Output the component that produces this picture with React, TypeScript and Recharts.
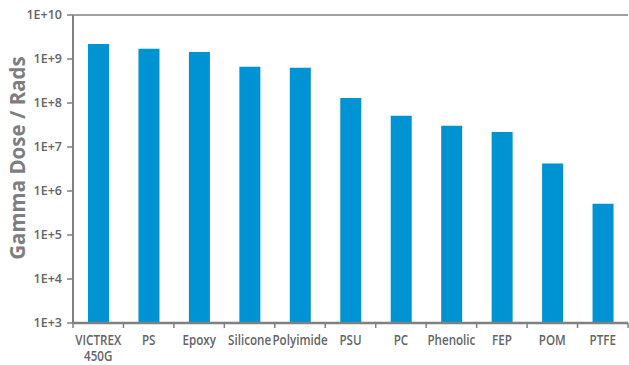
import React from 'react';
import {
  BarChart,
  Bar,
  XAxis,
  YAxis,
  ReferenceLine,
} from 'recharts';

const materials = [
  'VICTREX 450G',
  'PS',
  'Epoxy',
  'Silicone',
  'Polyimide',
  'PSU',
  'PC',
  'Phenolic',
  'FEP',
  'POM',
  'PTFE',
];

const gammaDose = [2.2e9, 1.7e9, 1.45e9, 6.7e8, 6.3e8, 1.3e8, 5.1e7, 3.05e7, 2.2e7, 4.2e6, 5.1e5];

const yTicks = [1e3, 1e4, 1e5, 1e6, 1e7, 1e8, 1e9, 1e10];

const data = materials.map((name, i) => ({ name, dose: gammaDose[i] }));

const textColor = '#636466';
const axisColor = '#808080';
const barColor = '#0093d3';
const font = "'Open Sans', sans-serif";

const formatTick = (v: number) => `1E+${Math.round(Math.log10(v))}`;

// category ticks sit on band edges, labels split on spaces
function MaterialTick(props: any) {
  const { x, y, payload, index } = props;
  const half = payload?.offset || 25.3;
  const lines = String(payload.value).split(' ');
  const last = index === materials.length - 1;
  return (
    <g>
      <line x1={x - half} y1={y} x2={x - half} y2={y + 5} stroke={axisColor} strokeWidth={1.5} />
      {last && (
        <line x1={x + half} y1={y} x2={x + half} y2={y + 5} stroke={axisColor} strokeWidth={1.5} />
      )}
      <text
        transform={`translate(${x},${y + 22}) scale(0.83,1)`}
        textAnchor="middle"
        fill={textColor}
        fontSize={14}
        fontWeight={600}
        fontFamily={font}
      >
        {lines.map((l, i) => (
          <tspan key={l} x={0} dy={i === 0 ? 0 : 16}>
            {l}
          </tspan>
        ))}
      </text>
    </g>
  );
}

function AxisTitle() {
  return (
    <text
      transform="translate(25,158) rotate(-90)"
      textAnchor="middle"
      fill="#7d7e80"
      fontSize={20.5}
      fontWeight={700}
      fontFamily={font}
    >
      Gamma Dose / Rads
    </text>
  );
}

export default function App() {
  return (
    <div style={{ position: 'absolute', left: 0, top: 0, background: '#fff' }}>
      <BarChart
        width={629}
        height={365}
        data={data}
        margin={{ top: 15, right: 1, bottom: 0, left: 0 }}
      >
        <ReferenceLine y={1e10} stroke={axisColor} strokeWidth={1.5} />
        <XAxis
          dataKey="name"
          interval={0}
          tickLine={false}
          tickSize={0}
          tickMargin={0}
          axisLine={{ stroke: axisColor, strokeWidth: 2.5 }}
          tick={<MaterialTick />}
          height={42}
        />
        <YAxis
          scale="log"
          domain={[1e3, 1e10]}
          ticks={yTicks}
          allowDataOverflow
          tickFormatter={formatTick}
          width={73}
          tickSize={6}
          tickMargin={5}
          tickLine={{ stroke: axisColor, strokeWidth: 1.5 }}
          axisLine={{ stroke: axisColor, strokeWidth: 2 }}
          tick={{ fill: textColor, fontSize: 12.5, fontWeight: 600, fontFamily: font }}
          label={<AxisTitle />}
        />
        <Bar dataKey="dose" fill={barColor} barSize={21} isAnimationActive={false} />
      </BarChart>
    </div>
  );
}
